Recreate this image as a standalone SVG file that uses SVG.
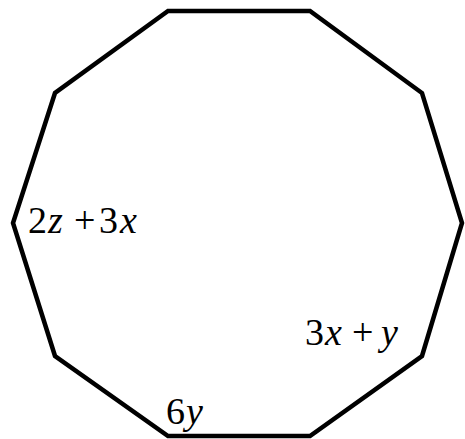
<svg xmlns="http://www.w3.org/2000/svg" width="465" height="439" viewBox="0 0 465 439">
<style>
.edge{fill:none;stroke:#000;stroke-width:4.5;stroke-linejoin:miter}
.t{font-family:'Liberation Serif','Times New Roman',serif;font-size:38px;fill:#000}
.i{font-style:italic}
</style>
<rect width="465" height="439" fill="#fff"/>
<g id="decagon">
<polygon class="edge" points="168,11 310,11 422,93 462,223 422,356 310,436 168,436 55,356 13,223 55,93"/>
</g>
<g id="labels">
<text class="t" y="233"><tspan x="28">2</tspan><tspan class="i" x="48">z</tspan><tspan x="74">+</tspan><tspan x="99">3</tspan><tspan class="i" x="120">x</tspan></text>
<text class="t" y="345"><tspan x="305">3</tspan><tspan class="i" x="325">x</tspan><tspan x="352">+</tspan><tspan class="i" x="381">y</tspan></text>
<text class="t" y="424"><tspan x="166">6</tspan><tspan class="i" x="186">y</tspan></text>
</g>
</svg>
